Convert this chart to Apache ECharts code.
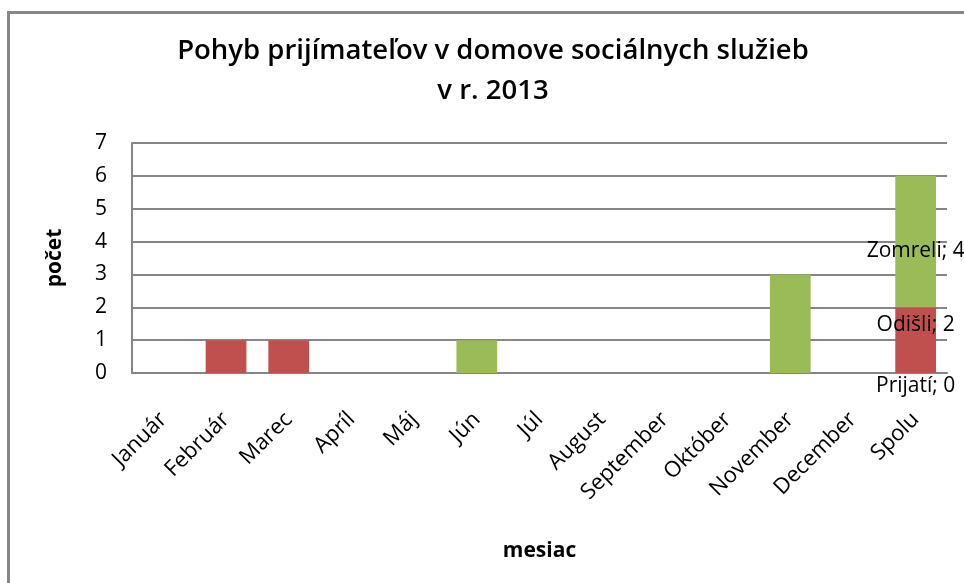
<!DOCTYPE html>
<html>
<head>
<meta charset="utf-8">
<script src="https://cdn.jsdelivr.net/npm/echarts@6/dist/echarts.min.js"></script>
<style>html,body{margin:0;padding:0;background:#fff}#c{width:964px;height:583px}</style>
</head>
<body>
<div id="c"></div>
<script>
const categories = ['Január','Február','Marec','Apríl','Máj','Jún','Júl','August','September','Október','November','December','Spolu'];
const seriesNames = ['Prijatí','Odišli','Zomreli'];
const prijati = [0,0,0,0,0,0,0,0,0,0,0,0,0];
const odisli  = [0,1,1,0,0,0,0,0,0,0,0,0,2];
const zomreli = [0,0,0,0,0,1,0,0,0,0,3,0,4];
const yTicks = [0,1,2,3,4,5,6,7];
const titleLines = ['Pohyb prijímateľov v domove sociálnych služieb','v r. 2013'];

const FONT = '"Open Sans", "Noto Sans", sans-serif';
const lastIdx = categories.length - 1;

function labelFor(name, pos, offset) {
  return {
    show: true,
    position: pos,
    offset: offset,
    fontFamily: FONT,
    fontSize: 21,
    color: '#000',
    formatter: p => p.dataIndex === lastIdx ? name + '; ' + p.value : ''
  };
}

const chart = echarts.init(document.getElementById('c'), null, {renderer: 'canvas'});
chart.setOption({
  animation: false,
  backgroundColor: '#fff',
  graphic: [{
    type: 'rect',
    shape: {x: 8.5, y: 12.5, width: 2000, height: 2000},
    style: {fill: 'none', stroke: '#878787', lineWidth: 3},
    silent: true
  }],
  title: {
    text: titleLines.join('\n'),
    left: 493,
    textAlign: 'center',
    top: 31,
    padding: 0,
    textStyle: {fontFamily: FONT, fontSize: 27.5, fontWeight: 600, color: '#000', lineHeight: 40}
  },
  grid: {left: 132, right: 17, top: 143, bottom: 210, containLabel: false},
  xAxis: {
    type: 'category',
    data: categories,
    name: 'mesiac',
    nameLocation: 'middle',
    nameGap: 168,
    nameTextStyle: {fontFamily: FONT, fontSize: 21, fontWeight: 'bold', color: '#000'},
    axisLine: {lineStyle: {color: '#868686', width: 2}},
    axisTick: {show: false},
    axisLabel: {rotate: 45, fontFamily: FONT, fontSize: 22, color: '#000', margin: 43, interval: 0}
  },
  yAxis: {
    type: 'value',
    min: 0, max: 7, interval: 1,
    name: 'počet',
    nameLocation: 'middle',
    nameGap: 66,
    nameRotate: 90,
    nameTextStyle: {fontFamily: FONT, fontSize: 21, fontWeight: 'bold', color: '#000'},
    axisLine: {show: true, lineStyle: {color: '#868686', width: 2}},
    axisTick: {show: false},
    axisLabel: {fontFamily: FONT, fontSize: 21, color: '#000', margin: 25, formatter: v => yTicks.includes(v) ? String(v) : ''},
    splitLine: {lineStyle: {color: '#868686', width: 2}}
  },
  series: [
    {name: seriesNames[0], type: 'bar', stack: 't', data: prijati, barWidth: '65%', itemStyle: {color: '#4F81BD'},
     label: labelFor(seriesNames[0], 'bottom', [0, -2])},
    {name: seriesNames[1], type: 'bar', stack: 't', data: odisli, barWidth: '65%', itemStyle: {color: '#C0504D'},
     label: labelFor(seriesNames[1], 'inside', [0, -15])},
    {name: seriesNames[2], type: 'bar', stack: 't', data: zomreli, barWidth: '65%', itemStyle: {color: '#9BBB59'},
     label: labelFor(seriesNames[2], 'inside', [0, 9])}
  ]
});
</script>
</body>
</html>
